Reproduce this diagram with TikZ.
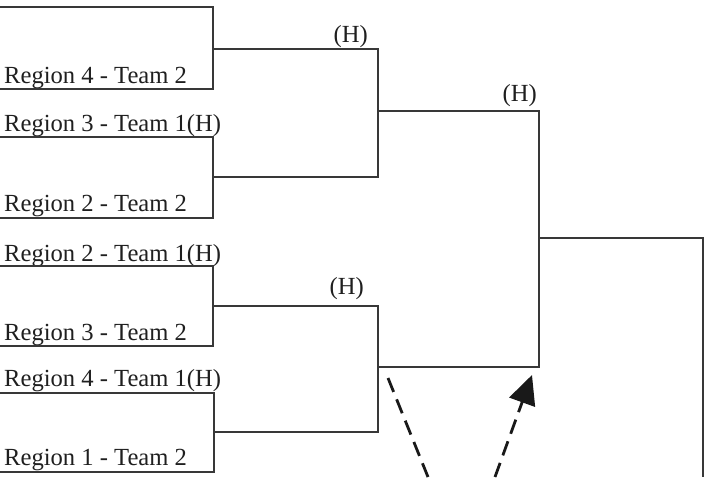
\documentclass[tikz,border=0pt]{standalone}
\usepackage{fontspec}
\setmainfont{Liberation Serif}
\usetikzlibrary{arrows.meta}
\begin{document}
\begin{tikzpicture}[x=1pt,y=-1pt,
  wire/.style={draw=black!78, line width=1.4pt},
  team/.style={anchor=base west, inner sep=0pt, font=\fontsize{24.6}{28}\selectfont, text=black!88},
  host/.style={anchor=base east, inner sep=0pt, font=\fontsize{24.6}{28}\selectfont, text=black!88},
  flow/.style={draw=black!90, line width=2.8pt, dash pattern=on 15pt off 8pt}]
\useasboundingbox (0,0) rectangle (710,477);
% team labels
\node[team] (t2) at (4,83) {Region 4 - Team 2};
\node[team] (t3) at (4,131) {Region 3 - Team 1(H)};
\node[team] (t4) at (4,211) {Region 2 - Team 2};
\node[team] (t5) at (4,261) {Region 2 - Team 1(H)};
\node[team] (t6) at (4,340) {Region 3 - Team 2};
\node[team] (t7) at (4,386) {Region 4 - Team 1(H)};
\node[team] (t8) at (4,465) {Region 1 - Team 2};
% host marks
\node[host] (h1) at (368,42) {(H)};
\node[host] (h2) at (537,101) {(H)};
\node[host] (h3) at (364,294) {(H)};
% line ends
\coordinate (a1) at (0,7);
\coordinate (a2) at (0,89);
\coordinate (a3) at (0,137);
\coordinate (a4) at (0,218);
\coordinate (a5) at (0,266);
\coordinate (a6) at (0,346);
\coordinate (a7) at (0,393);
\coordinate (a8) at (0,472);
% round 1 joins
\coordinate (j1) at (213,49);
\coordinate (j2) at (213,177);
\coordinate (j3) at (213,306);
\coordinate (j4) at (214,432);
% round 2
\coordinate (k1) at (378,49);
\coordinate (k2) at (378,177);
\coordinate (k3) at (378,306);
\coordinate (k4) at (378,432);
\coordinate (p1) at (378,111);
\coordinate (p2) at (378,367);
% round 3
\coordinate (q1) at (539,111);
\coordinate (q2) at (539,367);
\coordinate (f1) at (539,238);
\coordinate (f2) at (703,238);
\coordinate (f3) at (703,477);
% brackets
\draw[wire] (a1) -| (j1) |- (a2);
\draw[wire] (a3) -| (j2) |- (a4);
\draw[wire] (a5) -| (j3) |- (a6);
\draw[wire] (a7) -| (j4) |- (a8);
\draw[wire] (j1) -- (k1) -- (k2) -- (j2);
\draw[wire] (j3) -- (k3) -- (k4) -- (j4);
\draw[wire] (p1) -- (q1) -- (q2) -- (p2);
\draw[wire] (f1) -- (f2) -- (f3);
% dashed flow
\coordinate (d1s) at (388,378);
\coordinate (d1e) at (428,477);
\coordinate (d2s) at (495,477);
\coordinate (d2e) at (532,375);
\draw[flow] (d1s) -- (d1e);
\draw[flow, -{Triangle[length=29pt,width=27pt]}] (d2s) -- (d2e);
\end{tikzpicture}
\end{document}
